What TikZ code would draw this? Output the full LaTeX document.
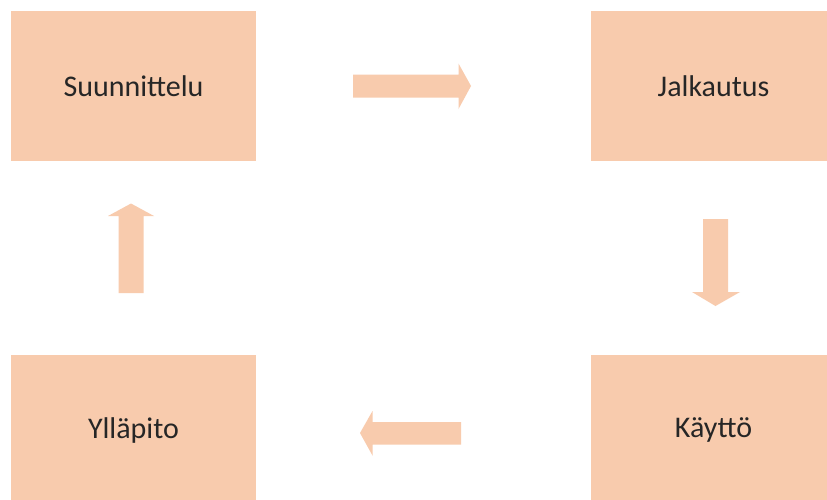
\documentclass[tikz,border=0pt]{standalone}
\usepackage{fontspec}
\setmainfont{Carlito}
\definecolor{peach}{HTML}{F8CBAD}
\definecolor{txt}{HTML}{262626}
\begin{document}
\begin{tikzpicture}[x=1pt,y=-1pt,
  stage/.style={rectangle, fill=peach, draw=none, minimum width=245pt, minimum height=150pt, inner sep=0pt, text=txt, font=\fontsize{30}{36}\selectfont},
  blockarrow/.style={fill=peach, draw=none}]
\useasboundingbox (0,0) rectangle (827,499);
\clip (0,0) rectangle (827,499);
\fill[white] (0,0) rectangle (827,499);
\node[stage] (suun) at (133.5,86) {Suunnittelu};
\node[stage] (jalk) at (713.5,86) {Jalkautus};
\node[stage] (kayt) at (713.5,430) {Käyttö};
\node[stage] (yll) at (133.5,430) {Ylläpito};
% right arrow
\fill[blockarrow] (353,74.5) -- (458.5,74.5) -- (458.5,63.5) -- (471,86) -- (458.5,109) -- (458.5,97.5) -- (353,97.5) -- cycle;
% down arrow
\fill[blockarrow] (703,219) -- (728,219) -- (728,292) -- (740,292) -- (715.5,306) -- (692,292) -- (703,292) -- cycle;
% left arrow
\fill[blockarrow] (461,422) -- (372.5,422) -- (372.5,411) -- (360,433) -- (372.5,455.5) -- (372.5,444.5) -- (461,444.5) -- cycle;
% up arrow
\fill[blockarrow] (118.5,293) -- (118.5,216) -- (108,216) -- (131,203.5) -- (154,216) -- (143.5,216) -- (143.5,293) -- cycle;
\end{tikzpicture}
\end{document}
